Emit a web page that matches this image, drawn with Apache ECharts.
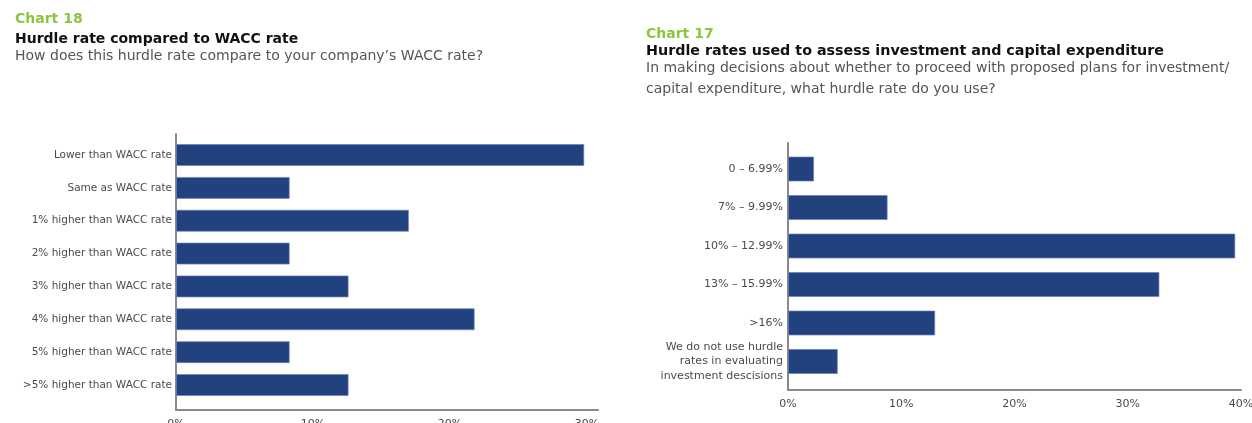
<!DOCTYPE html>
<html>
<head>
<meta charset="utf-8">
<script src="https://cdn.jsdelivr.net/npm/echarts@6/dist/echarts.min.js"></script>
<style>
  html, body { margin: 0; padding: 0; background: #fff; }
  #chart { width: 1252px; height: 423px; }
</style>
</head>
<body>
<div id="chart"></div>
<script>
// Chart 18: hurdle rate relative to WACC (share of respondents, %)
const waccCategories = [
  'Lower than WACC rate',
  'Same as WACC rate',
  '1% higher than WACC rate',
  '2% higher than WACC rate',
  '3% higher than WACC rate',
  '4% higher than WACC rate',
  '5% higher than WACC rate',
  '>5% higher than WACC rate'
];
const waccValues = [29.8, 8.3, 17.0, 8.3, 12.6, 21.8, 8.3, 12.6];

// Chart 17: hurdle rates used for investment decisions (share of respondents, %)
const hurdleCategories = [
  '0 – 6.99%',
  '7% – 9.99%',
  '10% – 12.99%',
  '13% – 15.99%',
  '>16%',
  'We do not use hurdle\nrates in evaluating\ninvestment descisions'
];
const hurdleValues = [2.3, 8.8, 39.5, 32.8, 13.0, 4.4];

const BAR = '#22417f';
const BAR_EDGE = 'rgba(110,130,180,0.7)';
const AXIS = '#8a8a8a';
const LABEL = '#4a4a4a';
const FONT = '"DejaVu Sans", "Noto Sans", sans-serif';

const chart = echarts.init(document.getElementById('chart'), null, { renderer: 'canvas' });

function titleItem(text, left, top, size, weight, color) {
  return { text, left, top, textStyle: { fontFamily: FONT, fontSize: size, fontWeight: weight, color } };
}

// grids keep their exact box; tick labels may run past the canvas edge
function box(left, right, top, height) {
  return { left, right, top, height, containLabel: false, outerBoundsMode: 'none' };
}

chart.setOption({
  animation: false,
  backgroundColor: '#fff',
  title: [
    titleItem('Chart 18', 10, 7, 14, 'bold', '#8cc63e'),
    titleItem('Hurdle rate compared to WACC rate', 10, 27, 14, 'bold', '#111'),
    titleItem('How does this hurdle rate compare to your company\u2019s WACC rate?', 10, 44, 14, 'normal', '#555'),
    titleItem('Chart 17', 641, 22, 14, 'bold', '#8cc63e'),
    titleItem('Hurdle rates used to assess investment and capital expenditure', 641, 39, 14.3, 'bold', '#111'),
    titleItem('In making decisions about whether to proceed with proposed plans for investment/', 641, 56, 14, 'normal', '#555'),
    titleItem('capital expenditure, what hurdle rate do you use?', 641, 77, 14, 'normal', '#555')
  ],
  grid: [
    box(176, 654, 138.6, 262.8),  // bars, chart 18
    box(176, 654, 134, 276),      // axis frame, chart 18
    box(788, 11, 149.75, 231),    // bars, chart 17
    box(788, 11, 143, 247)        // axis frame, chart 17
  ],
  xAxis: [
    { gridIndex: 0, type: 'value', min: 0, max: 30.8, show: false },
    {
      gridIndex: 1, type: 'value', min: 0, max: 30.8, interval: 10,
      axisLine: { show: true, lineStyle: { color: AXIS, width: 2 } },
      axisTick: { show: false }, splitLine: { show: false },
      axisLabel: { showMaxLabel: false, margin: 9, fontFamily: FONT, fontSize: 11, color: LABEL, formatter: '{value}%' }
    },
    { gridIndex: 2, type: 'value', min: 0, max: 40, show: false },
    {
      gridIndex: 3, type: 'value', min: 0, max: 40, interval: 10,
      axisLine: { show: true, lineStyle: { color: AXIS, width: 2 } },
      axisTick: { show: false }, splitLine: { show: false },
      axisLabel: { margin: 9, fontFamily: FONT, fontSize: 11, color: LABEL, formatter: '{value}%' }
    }
  ],
  yAxis: [
    {
      gridIndex: 0, type: 'category', data: waccCategories, inverse: true,
      axisLine: { show: false }, axisTick: { show: false },
      axisLabel: { margin: 4, fontFamily: FONT, fontSize: 10.5, color: LABEL }
    },
    {
      gridIndex: 1, type: 'value', min: 0, max: 1,
      axisLine: { show: true, lineStyle: { color: AXIS, width: 2 } },
      axisTick: { show: false }, axisLabel: { show: false }, splitLine: { show: false }
    },
    {
      gridIndex: 2, type: 'category', data: hurdleCategories, inverse: true,
      axisLine: { show: false }, axisTick: { show: false },
      axisLabel: { margin: 5, fontFamily: FONT, fontSize: 11, color: LABEL, lineHeight: 14.5 }
    },
    {
      gridIndex: 3, type: 'value', min: 0, max: 1,
      axisLine: { show: true, lineStyle: { color: AXIS, width: 2 } },
      axisTick: { show: false }, axisLabel: { show: false }, splitLine: { show: false }
    }
  ],
  series: [
    {
      type: 'bar', xAxisIndex: 0, yAxisIndex: 0, data: waccValues,
      barWidth: 22, itemStyle: { color: BAR, borderColor: BAR_EDGE, borderWidth: 1 }, z: 3
    },
    {
      type: 'bar', xAxisIndex: 2, yAxisIndex: 2, data: hurdleValues,
      barWidth: 25, itemStyle: { color: BAR, borderColor: BAR_EDGE, borderWidth: 1 }, z: 3
    }
  ]
});
</script>
</body>
</html>
